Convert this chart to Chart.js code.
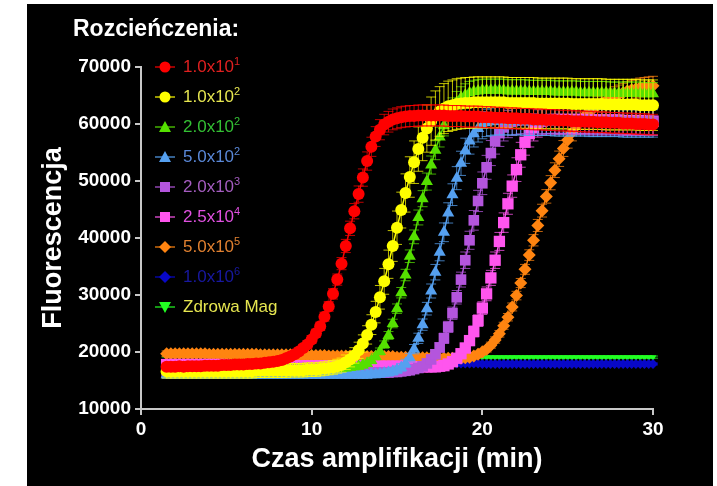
<!DOCTYPE html>
<html lang="pl">
<head>
<meta charset="utf-8">
<title>Fluorescencja</title>
<script src="https://cdn.jsdelivr.net/npm/chart.js@4.4.1/dist/chart.umd.min.js"></script>
<style>
  html, body { margin: 0; padding: 0; background: #fff; }
  body { width: 717px; height: 486px; position: relative; overflow: hidden; font-family: 'Liberation Sans', Arial, sans-serif; }
  #panel { position: absolute; left: 27px; top: 4px; width: 686px; height: 482px; background: #000; }
  #chart { position: absolute; left: 0; top: 0; }
  #heading { position: absolute; left: 46px; top: 13px; color: #fff; font-weight: bold; font-size: 23px; line-height: 23px; white-space: nowrap; }
  .legend-row { position: absolute; left: 127px; height: 30px; display: flex; align-items: center; font-size: 17px; white-space: nowrap; }
  .legend-row svg { margin-right: 7px; }
  .legend-row sup { font-size: 11px; vertical-align: 7px; line-height: 0; }
</style>
</head>
<body>
<div id="panel">
  <canvas id="chart" width="686" height="482"></canvas>
  <div id="heading">Rozcieńczenia:</div>
  <div id="legend"></div>
</div>
<script>
// Time axis (min), one reading every 15 s
const times = [
  1.5, 1.75,
  2, 2.25, 2.5, 2.75, 3, 3.25, 3.5, 3.75,
  4, 4.25, 4.5, 4.75, 5, 5.25, 5.5, 5.75,
  6, 6.25, 6.5, 6.75, 7, 7.25, 7.5, 7.75,
  8, 8.25, 8.5, 8.75, 9, 9.25, 9.5, 9.75,
  10, 10.25, 10.5, 10.75, 11, 11.25, 11.5, 11.75,
  12, 12.25, 12.5, 12.75, 13, 13.25, 13.5, 13.75,
  14, 14.25, 14.5, 14.75, 15, 15.25, 15.5, 15.75,
  16, 16.25, 16.5, 16.75, 17, 17.25, 17.5, 17.75,
  18, 18.25, 18.5, 18.75, 19, 19.25, 19.5, 19.75,
  20, 20.25, 20.5, 20.75, 21, 21.25, 21.5, 21.75,
  22, 22.25, 22.5, 22.75, 23, 23.25, 23.5, 23.75,
  24, 24.25, 24.5, 24.75, 25, 25.25, 25.5, 25.75,
  26, 26.25, 26.5, 26.75, 27, 27.25, 27.5, 27.75,
  28, 28.25, 28.5, 28.75, 29, 29.25, 29.5, 29.75,
  30
];

// Fluorescence, in thousands, one value per time point
const dil1e1 = [
  17.4, 17.4,
  17.4, 17.5, 17.4, 17.5, 17.5, 17.5, 17.5, 17.6,
  17.6, 17.6, 17.6, 17.7, 17.7, 17.7, 17.8, 17.8,
  17.8, 17.9, 17.9, 18.0, 18.0, 18.1, 18.2, 18.3,
  18.4, 18.6, 18.9, 19.2, 19.6, 20.1, 20.7, 21.3,
  22.2, 23.3, 24.5, 26.2, 28.0, 30.2, 32.7, 35.5,
  38.6, 41.7, 44.7, 47.7, 50.6, 53.5, 56.0, 57.8,
  59.0, 59.9, 60.4, 60.8, 61.0, 61.2, 61.3, 61.4,
  61.4, 61.5, 61.5, 61.5, 61.5, 61.5, 61.5, 61.5,
  61.4, 61.4, 61.4, 61.4, 61.3, 61.3, 61.3, 61.3,
  61.2, 61.2, 61.2, 61.1, 61.1, 61.1, 61.0, 61.0,
  61.0, 60.9, 60.9, 60.9, 60.8, 60.8, 60.8, 60.7,
  60.7, 60.7, 60.6, 60.6, 60.6, 60.5, 60.5, 60.5,
  60.4, 60.4, 60.4, 60.3, 60.3, 60.3, 60.2, 60.2,
  60.2, 60.1, 60.1, 60.1, 60.0, 60.0, 60.0, 59.9,
  59.9
];
const dil1e2 = [
  16.6, 16.6,
  16.6, 16.6, 16.6, 16.6, 16.6, 16.6, 16.6, 16.6,
  16.6, 16.6, 16.6, 16.6, 16.6, 16.6, 16.6, 16.6,
  16.6, 16.6, 16.6, 16.7, 16.7, 16.7, 16.7, 16.7,
  16.7, 16.7, 16.7, 16.8, 16.8, 16.8, 16.8, 16.9,
  16.9, 16.9, 17.0, 17.1, 17.2, 17.3, 17.5, 17.7,
  18.2, 18.7, 19.4, 20.3, 21.5, 23.0, 24.8, 27.0,
  29.6, 32.4, 35.4, 38.6, 41.8, 44.9, 47.9, 50.7,
  53.3, 55.6, 57.6, 59.2, 60.5, 61.5, 62.2, 62.7,
  63.1, 63.3, 63.5, 63.6, 63.7, 63.7, 63.8, 63.8,
  63.8, 63.8, 63.8, 63.8, 63.8, 63.8, 63.7, 63.7,
  63.7, 63.7, 63.7, 63.7, 63.7, 63.6, 63.6, 63.6,
  63.6, 63.6, 63.6, 63.6, 63.6, 63.5, 63.5, 63.5,
  63.5, 63.5, 63.5, 63.5, 63.5, 63.4, 63.4, 63.4,
  63.4, 63.4, 63.4, 63.4, 63.4, 63.3, 63.3, 63.3,
  63.3
];
const dil2e2 = [
  17.0, 17.0,
  17.0, 17.0, 17.0, 17.0, 17.0, 17.0, 17.0, 17.0,
  17.0, 17.0, 17.0, 17.0, 17.0, 17.0, 17.0, 17.0,
  17.0, 17.0, 17.0, 17.0, 17.0, 17.0, 17.0, 17.0,
  17.0, 17.0, 17.0, 17.0, 17.0, 17.0, 17.0, 17.0,
  17.0, 17.0, 17.0, 17.1, 17.1, 17.1, 17.1, 17.1,
  17.2, 17.3, 17.4, 17.5, 17.7, 18.0, 18.5, 19.2,
  20.1, 21.3, 22.9, 25.0, 27.6, 30.4, 33.5, 36.8,
  40.2, 43.6, 46.9, 49.9, 52.8, 55.4, 57.7, 59.7,
  61.3, 62.7, 63.8, 64.6, 65.1, 65.5, 65.7, 65.8,
  65.9, 65.9, 65.9, 65.9, 65.9, 65.9, 65.8, 65.8,
  65.8, 65.8, 65.8, 65.7, 65.7, 65.7, 65.7, 65.7,
  65.7, 65.6, 65.6, 65.6, 65.6, 65.6, 65.6, 65.5,
  65.5, 65.5, 65.5, 65.5, 65.5, 65.5, 65.4, 65.4,
  65.4, 65.4, 65.4, 65.4, 65.4, 65.4, 65.3, 65.3,
  65.3
];
const dil5e2 = [
  16.0, 16.0,
  16.0, 16.0, 16.0, 16.0, 16.0, 16.0, 16.0, 16.0,
  16.0, 16.0, 16.0, 16.0, 16.0, 16.0, 16.0, 16.0,
  16.0, 16.0, 16.0, 16.0, 16.0, 16.0, 16.0, 16.0,
  16.0, 16.0, 16.0, 16.0, 16.0, 16.0, 16.0, 16.0,
  16.0, 16.0, 16.0, 16.0, 16.0, 16.0, 16.0, 16.0,
  16.0, 16.0, 16.0, 16.0, 16.0, 16.0, 16.1, 16.1,
  16.2, 16.3, 16.4, 16.6, 16.9, 17.3, 18.0, 19.0,
  20.5, 22.4, 24.8, 27.6, 30.7, 34.0, 37.5, 41.0,
  44.4, 47.6, 50.5, 53.1, 55.3, 57.0, 58.3, 59.2,
  59.8, 60.2, 60.4, 60.5, 60.5, 60.5, 60.5, 60.5,
  60.5, 60.5, 60.4, 60.4, 60.4, 60.4, 60.4, 60.4,
  60.4, 60.3, 60.3, 60.3, 60.3, 60.3, 60.3, 60.3,
  60.3, 60.2, 60.2, 60.2, 60.2, 60.2, 60.2, 60.2,
  60.2, 60.1, 60.1, 60.1, 60.1, 60.1, 60.1, 60.1,
  60.1
];
const dil2e3 = [
  16.4, 16.4,
  16.4, 16.4, 16.4, 16.4, 16.4, 16.4, 16.4, 16.4,
  16.4, 16.4, 16.4, 16.4, 16.4, 16.4, 16.4, 16.4,
  16.4, 16.4, 16.4, 16.4, 16.4, 16.4, 16.4, 16.4,
  16.4, 16.4, 16.4, 16.4, 16.4, 16.4, 16.4, 16.4,
  16.4, 16.4, 16.4, 16.4, 16.4, 16.4, 16.4, 16.4,
  16.4, 16.4, 16.4, 16.4, 16.4, 16.4, 16.4, 16.4,
  16.4, 16.4, 16.4, 16.5, 16.5, 16.6, 16.7, 16.8,
  17.0, 17.2, 17.5, 18.0, 18.7, 19.6, 20.8, 22.4,
  24.4, 26.8, 29.6, 32.7, 36.1, 39.6, 43.1, 46.5,
  49.6, 52.4, 54.9, 57.0, 58.4, 59.4, 60.0, 60.4,
  60.6, 60.7, 60.7, 60.7, 60.7, 60.7, 60.7, 60.7,
  60.7, 60.6, 60.6, 60.6, 60.6, 60.6, 60.6, 60.6,
  60.6, 60.5, 60.5, 60.5, 60.5, 60.5, 60.5, 60.5,
  60.5, 60.4, 60.4, 60.4, 60.4, 60.4, 60.4, 60.4,
  60.4
];
const dil25e4 = [
  17.8, 17.8,
  17.8, 17.8, 17.8, 17.8, 17.8, 17.8, 17.8, 17.8,
  17.8, 17.8, 17.8, 17.8, 17.7, 17.7, 17.7, 17.7,
  17.7, 17.7, 17.7, 17.7, 17.7, 17.7, 17.7, 17.7,
  17.7, 17.7, 17.7, 17.7, 17.6, 17.6, 17.6, 17.6,
  17.6, 17.6, 17.6, 17.6, 17.6, 17.6, 17.6, 17.6,
  17.6, 17.6, 17.6, 17.6, 17.5, 17.5, 17.5, 17.5,
  17.5, 17.5, 17.5, 17.5, 17.5, 17.5, 17.5, 17.5,
  17.4, 17.4, 17.4, 17.4, 17.4, 17.4, 17.5, 17.6,
  17.9, 18.3, 18.9, 19.7, 20.7, 22.0, 23.6, 25.5,
  27.7, 30.2, 33.0, 36.1, 39.4, 42.7, 46.0, 49.1,
  52.0, 54.6, 56.8, 58.3, 59.4, 60.1, 60.5, 60.7,
  60.8, 60.8, 60.8, 60.8, 60.8, 60.8, 60.8, 60.8,
  60.8, 60.7, 60.7, 60.7, 60.7, 60.7, 60.7, 60.7,
  60.7, 60.6, 60.6, 60.6, 60.6, 60.6, 60.5, 60.5,
  60.5
];
const dil5e5 = [
  19.7, 19.7,
  19.7, 19.7, 19.7, 19.7, 19.7, 19.7, 19.7, 19.7,
  19.6, 19.6, 19.6, 19.6, 19.6, 19.6, 19.6, 19.6,
  19.6, 19.6, 19.6, 19.6, 19.5, 19.5, 19.5, 19.5,
  19.5, 19.5, 19.5, 19.5, 19.4, 19.4, 19.4, 19.4,
  19.4, 19.4, 19.4, 19.4, 19.3, 19.3, 19.3, 19.3,
  19.3, 19.3, 19.3, 19.3, 19.2, 19.2, 19.2, 19.2,
  19.2, 19.2, 19.2, 19.2, 19.1, 19.1, 19.1, 19.1,
  19.0, 19.0, 19.0, 19.0, 19.0, 19.0, 18.9, 18.9,
  18.9, 18.9, 18.9, 18.9, 19.0, 19.1, 19.3, 19.6,
  20.0, 20.5, 21.2, 22.1, 23.2, 24.6, 26.1, 27.9,
  29.9, 32.1, 34.5, 37.0, 39.6, 42.2, 44.8, 47.3,
  49.7, 51.9, 53.9, 55.7, 57.2, 58.5, 59.6, 60.6,
  61.4, 62.1, 62.7, 63.2, 63.7, 64.1, 64.5, 64.9,
  65.2, 65.5, 65.8, 66.0, 66.2, 66.4, 66.5, 66.6,
  66.7
];
const dil1e6 = [
  18.1, 18.1,
  18.1, 18.1, 18.1, 18.1, 18.1, 18.1, 18.1, 18.1,
  18.1, 18.1, 18.1, 18.1, 18.1, 18.1, 18.1, 18.1,
  18.1, 18.1, 18.1, 18.1, 18.1, 18.1, 18.1, 18.1,
  18.1, 18.1, 18.1, 18.1, 18.1, 18.1, 18.1, 18.1,
  18.0, 18.0, 18.0, 18.0, 18.0, 18.0, 18.0, 18.0,
  18.0, 18.0, 18.0, 18.0, 18.0, 18.0, 18.0, 18.0,
  18.0, 18.0, 18.0, 18.0, 18.0, 18.0, 18.0, 18.0,
  18.0, 18.0, 18.0, 18.0, 18.0, 18.0, 18.0, 18.0,
  18.0, 18.0, 18.0, 18.0, 18.0, 18.0, 18.0, 18.0,
  17.9, 17.9, 17.9, 17.9, 17.9, 17.9, 17.9, 17.9,
  17.9, 17.9, 17.9, 17.9, 17.9, 17.9, 17.9, 17.9,
  17.9, 17.9, 17.9, 17.9, 17.9, 17.9, 17.9, 17.9,
  17.9, 17.9, 17.9, 17.9, 17.9, 17.9, 17.9, 17.9,
  17.9, 17.9, 17.9, 17.9, 17.9, 17.9, 17.9, 17.9,
  17.9
];
const healthy = [
  19.3, 19.3,
  19.3, 19.3, 19.3, 19.3, 19.3, 19.3, 19.3, 19.3,
  19.3, 19.3, 19.3, 19.3, 19.3, 19.3, 19.3, 19.3,
  19.3, 19.3, 19.3, 19.3, 19.3, 19.3, 19.3, 19.3,
  19.3, 19.3, 19.3, 19.3, 19.3, 19.3, 19.3, 19.3,
  19.2, 19.2, 19.2, 19.2, 19.2, 19.2, 19.2, 19.2,
  19.2, 19.2, 19.2, 19.2, 19.2, 19.2, 19.2, 19.2,
  19.2, 19.2, 19.2, 19.2, 19.2, 19.2, 19.2, 19.2,
  19.2, 19.2, 19.2, 19.2, 19.2, 19.2, 19.2, 19.2,
  19.2, 19.2, 19.2, 19.2, 19.2, 19.2, 19.2, 19.2,
  19.1, 19.1, 19.1, 19.1, 19.1, 19.1, 19.1, 19.1,
  19.1, 19.1, 19.1, 19.1, 19.1, 19.1, 19.1, 19.1,
  19.1, 19.1, 19.1, 19.1, 19.1, 19.1, 19.1, 19.1,
  19.1, 19.1, 19.1, 19.1, 19.1, 19.1, 19.1, 19.1,
  19.1, 19.1, 19.1, 19.1, 19.1, 19.1, 19.1, 19.1,
  19.1
];

const seriesValues = [dil1e1, dil1e2, dil2e2, dil5e2, dil2e3, dil25e4, dil5e5, dil1e6, healthy];
const seriesNames = ['1.0x10', '1.0x10', '2.0x10', '5.0x10', '2.0x10', '2.5x10', '5.0x10', '1.0x10', 'Zdrowa Mag'];
const seriesExponents = ['1', '2', '2', '2', '3', '4', '5', '6', ''];
const seriesColors = ['#ff0000', '#ffff00', '#55e000', '#55a0f0', '#b455dd', '#ff55ee', '#ff8410', '#0808c8', '#22ff22'];
const legendTextColors = ['#e02020', '#e6e650', '#33c033', '#5a88d8', '#a55cc0', '#e050e0', '#e08030', '#1818a0', '#e6e650'];
const pointStyles = ['circle', 'circle', 'triangle', 'triangle', 'rect', 'rect', 'rectRot', 'rectRot', 'triangle'];
const pointRotations = [0, 0, 0, 0, 0, 0, 0, 0, 180];
const pointRadii = [6, 6, 7, 7, 7.5, 8, 6.5, 5, 4];
// relative SD used for the error bars
const errorCV = [0.03, 0.07, 0.03, 0.04, 0.04, 0.04, 0.025, 0.01, 0.01];

const xTickValues = [0, 10, 20, 30];
const yTickValues = [10000, 20000, 30000, 40000, 50000, 60000, 70000];

Chart.defaults.font.family = "'Liberation Sans', Arial, sans-serif";

const datasets = seriesValues.map((vals, i) => ({
  label: seriesNames[i] + (seriesExponents[i] ? '^' + seriesExponents[i] : ''),
  data: times.map((t, j) => ({ x: t, y: vals[j] * 1000 })),
  showLine: true,
  borderColor: seriesColors[i],
  backgroundColor: seriesColors[i],
  borderWidth: 1.5,
  pointStyle: pointStyles[i],
  pointRotation: pointRotations[i],
  pointRadius: pointRadii[i],
  pointHoverRadius: pointRadii[i],
  pointBorderWidth: 0,
  pointBackgroundColor: seriesColors[i],
  clip: false
}));

// Error bars, drawn just before each dataset's own markers
const errorBars = {
  id: 'errorBars',
  beforeDatasetDraw(chart, args) {
    const i = args.index;
    const ds = chart.data.datasets[i];
    const yScale = chart.scales.y;
    const ctx = chart.ctx;
    ctx.save();
    ctx.strokeStyle = ds.borderColor;
    ctx.globalAlpha = 0.75;
    ctx.lineWidth = 1;
    args.meta.data.forEach((pt, j) => {
      const v = ds.data[j].y;
      const e = v * errorCV[i];
      const top = yScale.getPixelForValue(v + e);
      const bot = yScale.getPixelForValue(v - e);
      ctx.beginPath();
      ctx.moveTo(pt.x, top); ctx.lineTo(pt.x, bot);
      ctx.moveTo(pt.x - 5, top); ctx.lineTo(pt.x + 5, top);
      ctx.moveTo(pt.x - 5, bot); ctx.lineTo(pt.x + 5, bot);
      ctx.stroke();
    });
    ctx.restore();
  }
};

const axisColor = '#c8c8c8';
const tickFont = { size: 19, weight: 'bold' };
const titleFont = { size: 27, weight: 'bold' };

new Chart(document.getElementById('chart').getContext('2d'), {
  type: 'scatter',
  data: { datasets },
  options: {
    responsive: false,
    devicePixelRatio: 1,
    animation: false,
    layout: { padding: { top: 63, right: 60, bottom: 0, left: 0 } },
    plugins: { legend: { display: false }, tooltip: { enabled: false } },
    scales: {
      x: {
        type: 'linear', min: 0, max: 30,
        afterBuildTicks: s => { s.ticks = xTickValues.map(v => ({ value: v })); },
        afterFit: s => { s.height = 77; },
        ticks: { color: '#fff', font: tickFont, padding: 3 },
        grid: { drawOnChartArea: false, drawTicks: true, tickLength: 6, color: axisColor, lineWidth: 2 },
        border: { color: axisColor, width: 2 },
        title: { display: true, text: 'Czas amplifikacji (min)', color: '#fff', font: titleFont, padding: { top: 0, bottom: 10 } }
      },
      y: {
        type: 'linear', min: 10000, max: 70000,
        afterBuildTicks: s => { s.ticks = yTickValues.map(v => ({ value: v })); },
        afterFit: s => { s.width = 114; },
        ticks: { color: '#fff', font: tickFont, padding: 4, callback: v => String(v) },
        grid: { drawOnChartArea: false, drawTicks: true, tickLength: 6, color: axisColor, lineWidth: 2 },
        border: { color: axisColor, width: 2 },
        title: { display: true, text: 'Fluorescencja', color: '#fff', font: titleFont, padding: { top: 10, bottom: 0 } }
      }
    }
  },
  plugins: [errorBars]
});

// Legend with superscript exponents
const markerShapes = {
  circle: c => `<circle cx="11" cy="8" r="5.5" fill="${c}"/>`,
  triangle: c => `<polygon points="11,2 17,13 5,13" fill="${c}"/>`,
  rect: c => `<rect x="6" y="3" width="10" height="10" fill="${c}"/>`,
  rectRot: c => `<polygon points="11,2 17,8 11,14 5,8" fill="${c}"/>`,
  triangleDown: c => `<polygon points="5,3 17,3 11,14" fill="${c}"/>`
};
const legend = document.getElementById('legend');
seriesNames.forEach((name, i) => {
  const c = seriesColors[i];
  const shape = pointRotations[i] === 180 ? 'triangleDown' : pointStyles[i];
  const row = document.createElement('div');
  row.className = 'legend-row';
  row.style.top = (48 + 30 * i) + 'px';
  row.style.color = legendTextColors[i];
  row.innerHTML =
    `<svg width="22" height="16" viewBox="0 0 22 16"><path d="M1 8H21" stroke="${c}" stroke-width="1.2"/>${markerShapes[shape](c)}</svg>` +
    `<span>${name}${seriesExponents[i] ? '<sup>' + seriesExponents[i] + '</sup>' : ''}</span>`;
  legend.appendChild(row);
});
</script>
</body>
</html>
